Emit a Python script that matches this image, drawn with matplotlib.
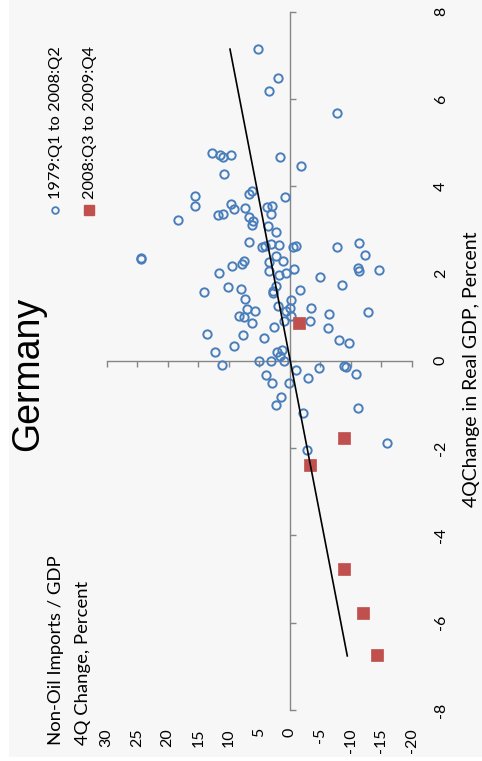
import matplotlib
matplotlib.use("Agg")
import matplotlib.pyplot as plt
from matplotlib.lines import Line2D
from matplotlib.patches import Rectangle

plt.rcParams["axes.unicode_minus"] = False

# 1979:Q1 to 2008:Q2  (x = non-oil imports / GDP, y = real GDP, 4Q change)
hist_imports = [5.20, 1.97, 3.44, 12.69, 11.38, 10.89, 9.62, 1.59, 10.82, 6.13,
                6.72, 15.48, 0.82, 15.48, 9.62, 9.08, 7.33, 3.77, 2.85, 3.07,
                11.75, 10.89, 6.67, 5.97, 6.18, 18.26, 3.51, 2.25, 6.62, 3.02,
                1.70, 4.59, 4.05, -0.59, -7.70, -1.80, -0.98, -7.80, -11.31, 24.43,
                24.30, 2.30, 1.05, 3.39, 7.44, 7.87, 9.41, 11.64, 3.44, 1.70,
                0.56, -0.75, 14.10, 10.16, 7.98, 2.30, 2.69, 2.79, 7.33, 6.95,
                5.69, 1.92, -0.26, 0.66, -0.05, 8.36, 7.54, 6.13, 0.98, 2.57,
                13.56, 7.61, 4.21, 9.13, 12.20, 2.08, 1.31, 1.59, 0.89, 5.03,
                3.02, 11.10, 3.84, 2.90, 0.07, 1.48, 2.25, -12.39, -11.15, -11.36,
                -14.59, -4.97, -8.52, -1.74, -3.49, -0.21, -6.39, -12.79, -3.33, -6.28,
                -8.08, -9.77, -0.98, -4.85, -8.95, -9.18, -10.82, -3.05, -11.25, -2.18,
                -15.95, -2.89]
hist_gdp = [7.14, 6.49, 6.17, 4.77, 4.72, 4.67, 4.72, 4.66, 4.28, 3.90,
            3.81, 3.78, 3.75, 3.55, 3.59, 3.48, 3.49, 3.52, 3.55, 3.36,
            3.35, 3.37, 3.30, 3.20, 3.12, 3.22, 3.09, 2.95, 2.72, 2.68,
            2.65, 2.61, 2.63, 2.61, 5.67, 4.46, 2.63, 2.60, 2.71, 2.33,
            2.35, 2.41, 2.28, 2.26, 2.29, 2.22, 2.18, 2.01, 2.06, 1.97,
            2.00, 2.11, 1.57, 1.69, 1.65, 1.71, 1.61, 1.55, 1.41, 1.19,
            1.13, 1.26, 1.39, 1.15, 1.20, 1.03, 1.00, 0.86, 0.91, 0.77,
            0.61, 0.60, 0.52, 0.34, 0.20, 0.21, 0.24, 0.12, 0.00, 0.00,
            0.00, -0.10, -0.33, -0.52, -0.51, -0.84, -1.01, 2.42, 2.13, 2.05,
            2.07, 1.92, 1.74, 1.62, 1.22, 1.03, 1.07, 1.12, 0.92, 0.75,
            0.48, 0.40, -0.21, -0.16, -0.11, -0.14, -0.30, -0.39, -1.07, -1.20,
            -1.88, -2.04]

# 2008:Q3 to 2009:Q4
crisis_imports = [-1.48, -8.95, -3.28, -8.85, -11.97, -14.26]
crisis_gdp = [0.86, -1.78, -2.39, -4.76, -5.77, -6.75]

# fitted trend line end points
trend_imports = [-9.44, 9.79]
trend_gdp = [-6.76, 7.14]

import_ticks = [30, 25, 20, 15, 10, 5, 0, -5, -10, -15, -20]
gdp_ticks = [-8, -6, -4, -2, 0, 2, 4, 6, 8]

BLUE = "#4a7ebb"
RED = "#c0504d"
GRAY = "#868686"
BG = "#f7f7f7"
FONT = "Lato"

W, H = 482, 761
fig = plt.figure(figsize=(W / 100, H / 100), dpi=100)
fig.patch.set_facecolor("white")
fig.add_artist(Rectangle((9 / W, 0.005), 1 - 9 / W, 0.995, transform=fig.transFigure,
                         facecolor=BG, edgecolor="none", zorder=0))

ax = fig.add_axes([106.7 / W, 1 - 710 / H, 305 / W, 698.4 / H])
ax.set_facecolor("none")
ax.set_xlim(30, -20)
ax.set_ylim(-8, 8)

ax.plot(hist_imports, hist_gdp, "o", mfc="none", mec=BLUE, ms=6, mew=1.4, clip_on=False, zorder=3)
ax.plot(crisis_imports, crisis_gdp, "s", mfc=RED, mec=RED, ms=9, mew=0.5, clip_on=False, zorder=4)
ax.plot(trend_imports, trend_gdp, color="black", lw=1.2, zorder=5)

# axes cross at zero
for side in ["top", "right"]:
    ax.spines[side].set_visible(False)
ax.spines["left"].set_position(("data", 0))
ax.spines["bottom"].set_position(("data", 0))
for side in ["left", "bottom"]:
    ax.spines[side].set_color(GRAY)
    ax.spines[side].set_linewidth(1.0)

ax.set_xticks(import_ticks)
ax.set_yticks(gdp_ticks)
ax.tick_params(axis="x", direction="out", length=4, width=1, color=GRAY, labelbottom=False)
ax.tick_params(axis="y", direction="in", length=4.3, width=1, color=GRAY, labelleft=False)

# tick labels sit at the outer edges, rotated like the rest of the chart
secx = ax.secondary_xaxis("bottom")
secx.set_xticks(import_ticks)
secx.tick_params(length=0, pad=13, labelrotation=90, labelsize=11.5)
secx.spines["bottom"].set_visible(False)

secy = ax.secondary_yaxis("right")
secy.set_yticks(gdp_ticks)
secy.tick_params(length=0, pad=16, labelrotation=90, labelsize=11.5)
secy.spines["right"].set_visible(False)
for lbl in secy.get_yticklabels():
    lbl.set_va("center")
for lbl in secx.get_xticklabels() + secy.get_yticklabels():
    lbl.set_fontfamily(FONT)

# titles
fig.text(28.5 / W, 1 - 373.5 / H, "Germany", rotation=90, ha="center", va="center",
         fontsize=27, family="Liberation Sans")
fig.text(471 / W, 1 - 369 / H, "4QChange in Real GDP, Percent", rotation=90,
         ha="center", va="center", fontsize=14, family=FONT)
fig.text(56 / W, 1 - 745 / H, "Non-Oil Imports / GDP", rotation=90,
         ha="center", va="bottom", fontsize=13.3, family=FONT)
fig.text(83 / W, 1 - 745 / H, "4Q Change, Percent", rotation=90,
         ha="center", va="bottom", fontsize=13.3, family=FONT)

# legend (drawn by hand because it is rotated)
fig.add_artist(Line2D([55 / W], [1 - 210 / H], transform=fig.transFigure, marker="o",
                      mfc="none", mec=BLUE, ms=4.8, mew=1.3, ls="none"))
fig.add_artist(Line2D([89 / W], [1 - 210 / H], transform=fig.transFigure, marker="s",
                      mfc=RED, mec=RED, ms=7.5, ls="none"))
fig.text(56 / W, 1 - 199 / H, "1979:Q1 to 2008:Q2", rotation=90, ha="center", va="bottom",
         fontsize=11.8, family=FONT)
fig.text(90 / W, 1 - 199 / H, "2008:Q3 to 2009:Q4", rotation=90, ha="center", va="bottom",
         fontsize=11.8, family=FONT)

fig.savefig("out.png", dpi=100, facecolor=fig.get_facecolor())
